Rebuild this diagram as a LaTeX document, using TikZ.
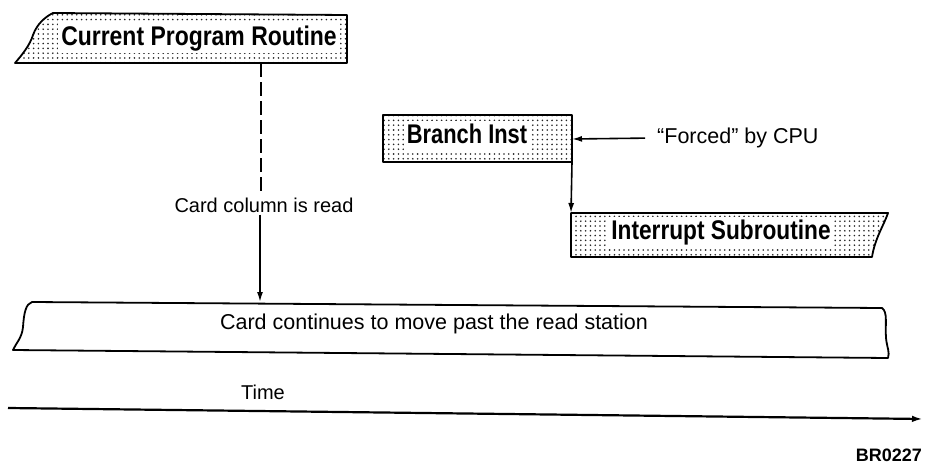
\documentclass[tikz,border=0pt]{standalone}
\usepackage{fontspec}
\setmainfont{Liberation Sans}
\usepackage{graphicx}
\usetikzlibrary{patterns.meta,arrows.meta}
\tikzset{
  outline/.style={line width=1.8pt, line join=round},
  stipple/.style={outline, pattern={Dots[distance=4.8pt,radius=0.9pt]}, pattern color=black!85},
  boxlabel/.style={fill=white, inner xsep=3pt, inner ysep=3pt, font=\fontsize{27}{27}\selectfont\bfseries, text height=19.5pt, text depth=5pt},
  plainlabel/.style={font=\fontsize{20}{20}\selectfont, inner sep=2pt},
  conn/.style={line width=1.6pt, -{Latex[length=10pt,width=6pt]}},
  dashconn/.style={line width=1.6pt, dash pattern=on 14pt off 5pt},
  timeaxis/.style={line width=2.2pt, -{Latex[length=11pt,width=6.5pt]}},
  codelabel/.style={font=\fontsize{18}{18}\selectfont\bfseries, inner sep=1pt},
}
\begin{document}
\begin{tikzpicture}[x=1pt,y=-1pt]
\useasboundingbox (0,0) rectangle (929,466);
% shapes
\draw[stipple] (53,13) -- (347,15) -- (347,63) -- (15,63)
  .. controls (22,55) and (30,45) .. (33,35)
  .. controls (37,24) and (45,17) .. (53,13) -- cycle;
\draw[stipple] (383,115) rectangle (572,162);
\draw[stipple] (571,213) -- (888,213)
  .. controls (884,225) and (875,238) .. (872,257) -- (571,257) -- cycle;
\draw[outline] (32,302) -- (882,308)
  .. controls (888,312) and (885,325) .. (886,338)
  .. controls (887,348) and (890,352) .. (888,358) -- (13,350)
  .. controls (16,343) and (22,338) .. (23,327)
  .. controls (24,312) and (26,304) .. (32,302) -- cycle;
% labels
\node[boxlabel] (cpr) at (199,38) {\scalebox{0.85}[1]{Current Program Routine}};
\node[boxlabel] (br) at (467,136) {\scalebox{0.81}[1]{Branch Inst}};
\node[boxlabel] (isr) at (721,232) {\scalebox{0.84}[1]{Interrupt Subroutine}};
\node[plainlabel] (ccr) at (264,205) {Card column is read};
\node[plainlabel, font=\fontsize{21.5}{21.5}\selectfont] (card) at (434,324) {Card continues to move past the read station};
\node[plainlabel, font=\fontsize{21.5}{21.5}\selectfont, anchor=west] (forced) at (655,138) {“Forced” by CPU};
\node[plainlabel] (time) at (263,392) {Time};
\node[codelabel, anchor=east] (code) at (923,455) {BR0227};
% connector end points on shapes
\coordinate (cprb) at (261,63);
\coordinate (cardt) at (260,302);
\coordinate (brse) at (572,162);
\coordinate (isrtl) at (571,213);
\coordinate (bre) at (572,139);
\coordinate (t0) at (8,408);
\coordinate (t1) at (923,419);
% connectors
\draw[dashconn] (cprb) -- (cprb |- ccr.north);
\draw[conn] (ccr.south -| cardt) -- (cardt);
\draw[conn] (brse) -- (isrtl);
\draw[conn, shorten <=10pt] (forced.west) -- (bre);
\draw[timeaxis] (t0) -- (t1);
\end{tikzpicture}
\end{document}
